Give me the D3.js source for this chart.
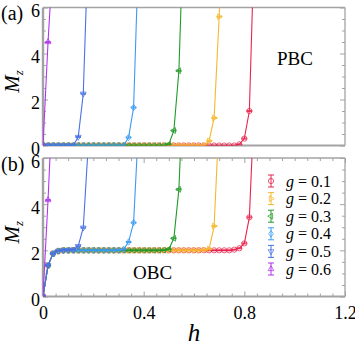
<!DOCTYPE html>
<html>
<head>
<meta charset="utf-8">
<script src="https://cdn.jsdelivr.net/npm/d3@7"></script>
<style>
  body { margin: 0; background: #fff; }
  svg { display: block; }
  svg text { font-family: "Liberation Serif", "Times New Roman", "DejaVu Serif", serif; fill: #000; }
</style>
</head>
<body>
<div id="chart"></div>
<script>
// h values shared by every series (each series uses the first N of them)
const hGrid = [0, 0.02, 0.04, 0.06, 0.08, 0.10, 0.12, 0.14, 0.16, 0.18, 0.20,
  0.22, 0.24, 0.26, 0.28, 0.30, 0.32, 0.34, 0.36, 0.38, 0.40, 0.42, 0.44, 0.46,
  0.48, 0.50, 0.52, 0.54, 0.56, 0.58, 0.60, 0.62, 0.64, 0.66, 0.68, 0.70, 0.72,
  0.74, 0.76, 0.78, 0.80, 0.82, 0.84]

const gLabels = ["0.1", "0.2", "0.3", "0.4", "0.5", "0.6"]

// (a) PBC, M_z per g
const pbc01 = [0,0,0,0,0,0,0,0,0,0, 0,0,0,0,0,0,0,0,0,0, 0,0,0,0,0,0,0,0,0,0, 0,0,0,0,0,0,0,0,0, 0.05, 0.3, 1.5, 9]
const pbc02 = [0,0,0,0,0,0,0,0,0,0, 0,0,0,0,0,0,0,0,0,0, 0,0,0,0,0,0,0,0,0,0, 0,0,0, 0.2, 1.2, 5.6, 11]
const pbc03 = [0,0,0,0,0,0,0,0,0,0, 0,0,0,0,0,0,0,0,0,0, 0,0,0,0,0, 0.05, 0.65, 3.25, 10]
const pbc04 = [0,0,0,0,0,0,0,0,0,0, 0,0,0,0,0,0,0, 0.35, 1.65, 8.5]
const pbc05 = [0,0,0,0,0,0,0, 0.37, 2.25, 8.9]
const pbc06 = [0, 4.5, 8.2]

// (b) OBC, M_z per g
const obc01 = [0, 1.35, 1.86, 1.97, 2,2,2,2,2,2, 2,2,2,2,2,2,2,2,2,2, 2,2,2,2,2,2,2,2,2,2, 2,2,2,2,2,2,2,2, 2.03, 2.09, 2.3, 3.43, 8.5]
const obc02 = [0, 1.35, 1.86, 1.97, 2,2,2,2,2,2, 2,2,2,2,2,2,2,2,2,2, 2,2,2,2,2,2,2,2,2,2, 2,2, 2.02, 2.06, 3.05, 7.8]
const obc03 = [0, 1.35, 1.86, 1.97, 2,2,2,2,2,2, 2,2,2,2,2,2,2,2,2,2, 2,2,2,2, 2.01, 2.05, 2.52, 4.64, 10]
const obc04 = [0, 1.35, 1.86, 1.97, 2,2,2,2,2,2, 2,2,2,2,2, 2.01, 2.04, 2.36, 3.2, 7.5]
const obc05 = [0, 1.35, 1.86, 1.97, 2, 2.01, 2.03, 2.18, 2.98, 6.6]
const obc06 = [0, 4.18, 9]

const pbcSeries = [pbc01, pbc02, pbc03, pbc04, pbc05, pbc06]
const obcSeries = [obc01, obc02, obc03, obc04, obc05, obc06]

const errBar = 0.02

// tick labels
const xTicks = [0, 0.4, 0.8, 1.2]
const yTicks = [0, 2, 4, 6]

const colors = ["#e8244c", "#f5b82c", "#229a28", "#3a9af5", "#4a70e4", "#b035ee"]
const markers = ["circle", "right", "left", "diamond", "down", "up"]

var width = 355, height = 345
var serif = "'Liberation Serif', 'Times New Roman', serif"

var svg = d3.select("#chart").append("svg")
  .attr("width", width)
  .attr("height", height)
  .attr("font-family", serif)

var x = d3.scaleLinear().domain([0, 1.2]).range([43, 345])

var panels = [
  { id: "a", top: 7.5, bottom: 145.5, series: pbcSeries, tag: "(a)", tagY: 20, hasXTicks: false },
  { id: "b", top: 158, bottom: 296.5, series: obcSeries, tag: "(b)", tagY: 171, hasXTicks: true }
]

var frameColor = "#a3a3a3"

// marker shapes centred on 0,0
function markerPath(kind) {
  let r = 3.3
  let tri = "M0," + (-r) + "L" + (r * 0.87) + "," + (r / 2) + "L" + (-r * 0.87) + "," + (r / 2) + "Z"
  if (kind === "circle") {
    let c = 2.6
    return "M" + c + ",0A" + c + "," + c + " 0 1,1 " + (-c) + ",0A" + c + "," + c + " 0 1,1 " + c + ",0Z"
  }
  if (kind === "diamond") return "M0,-3.2L2.4,0L0,3.2L-2.4,0Z"
  return tri
}
function markerRot(kind) {
  if (kind === "right") return 90
  if (kind === "left") return -90
  if (kind === "down") return 180
  return 0
}

var minorY = d3.range(0, 6.01, 0.5).filter(v => yTicks.indexOf(v) < 0)
var minorX = d3.range(0, 1.201, 0.05).filter(v => !xTicks.some(t => Math.abs(t - v) < 1e-6))

panels.forEach((p) => {
  var y = d3.scaleLinear().domain([0, 6]).range([p.bottom, p.top])
  var g = svg.append("g")

  g.append("clipPath").attr("id", "clip-" + p.id)
    .append("rect")
    .attr("x", x(0)).attr("y", p.top)
    .attr("width", x(1.2) - x(0)).attr("height", p.bottom - p.top)

  // left axis with labels
  var left = g.append("g").attr("transform", "translate(" + x(0) + ",0)")
    .call(d3.axisLeft(y).tickValues(yTicks).tickSize(-5).tickPadding(3).tickFormat(d3.format("d")))
  left.append("g").call(d3.axisLeft(y).tickValues(minorY).tickSize(-3).tickFormat(""))
  var right = g.append("g").attr("transform", "translate(" + x(1.2) + ",0)")
    .call(d3.axisRight(y).tickValues(yTicks).tickSize(-5).tickFormat(""))
  right.append("g").call(d3.axisRight(y).tickValues(minorY).tickSize(-3).tickFormat(""))

  if (p.hasXTicks) {
    var bottom = g.append("g").attr("transform", "translate(0," + p.bottom + ")")
      .call(d3.axisBottom(x).tickValues(xTicks).tickSize(-5).tickPadding(10).tickFormat(d => d === 0 ? "0" : d3.format(".1f")(d)))
    bottom.append("g").call(d3.axisBottom(x).tickValues(minorX).tickSize(-3).tickFormat(""))
    var top = g.append("g").attr("transform", "translate(0," + p.top + ")")
      .call(d3.axisTop(x).tickValues(xTicks).tickSize(-5).tickFormat(""))
    top.append("g").call(d3.axisTop(x).tickValues(minorX).tickSize(-3).tickFormat(""))
  }

  g.selectAll(".domain").remove()
  g.selectAll("g").attr("font-family", serif)
  g.selectAll(".tick line").attr("stroke", frameColor).attr("stroke-width", 1)
  g.selectAll(".tick text").style("font-size", "18px").attr("fill", "#000")
    .style("font-family", serif)
  left.selectAll(".tick text").attr("dy", "0.5em")

  // frame
  g.append("line").attr("x1", x(0)).attr("x2", x(1.2)).attr("y1", p.top).attr("y2", p.top)
    .attr("stroke", frameColor).attr("stroke-width", 1.3)
  g.append("line").attr("x1", x(1.2)).attr("x2", x(1.2)).attr("y1", p.top).attr("y2", p.bottom)
    .attr("stroke", frameColor).attr("stroke-width", 1.3)
  g.append("line").attr("x1", x(0)).attr("x2", x(1.2)).attr("y1", p.bottom).attr("y2", p.bottom)
    .attr("stroke", frameColor).attr("stroke-width", 2)
  g.append("line").attr("x1", x(0)).attr("x2", x(0)).attr("y1", p.top).attr("y2", p.bottom)
    .attr("stroke", frameColor).attr("stroke-width", 2.4)

  // curves
  var plot = g.append("g").attr("clip-path", "url(#clip-" + p.id + ")")
  var line = d3.line().x(d => x(d.h)).y(d => y(d.m))

  p.series.forEach((s, si) => {
    let pts = s.map((m, i) => ({ h: hGrid[i], m: m }))
    let col = colors[si]
    plot.append("path").datum(pts)
      .attr("d", line)
      .attr("fill", "none")
      .attr("stroke", col)
      .attr("stroke-width", 1.1)

    let mk = plot.selectAll(".mk" + si).data(pts).enter().append("g")
      .attr("transform", d => "translate(" + x(d.h) + "," + y(d.m) + ")")
    mk.append("line").attr("x1", -2.8).attr("x2", 2.8)
      .attr("y1", d => y(d.m - errBar) - y(d.m)).attr("y2", d => y(d.m - errBar) - y(d.m))
      .attr("stroke", col).attr("stroke-width", 0.9)
    mk.append("line").attr("x1", -2.8).attr("x2", 2.8)
      .attr("y1", d => y(d.m + errBar) - y(d.m)).attr("y2", d => y(d.m + errBar) - y(d.m))
      .attr("stroke", col).attr("stroke-width", 0.9)
    mk.append("path")
      .attr("d", markerPath(markers[si]))
      .attr("transform", "rotate(" + markerRot(markers[si]) + ")")
      .attr("fill", "none")
      .attr("stroke", col)
      .attr("stroke-opacity", 0.75)
      .attr("stroke-width", 1)
  })

  // panel tag
  svg.append("text").attr("x", 1).attr("y", p.tagY)
    .style("font-size", "20px").text(p.tag)

  // y label M_z
  var yl = svg.append("text")
    .attr("transform", "translate(19," + ((p.top + p.bottom) / 2 + 5) + ") rotate(-90)")
    .attr("text-anchor", "middle")
    .style("font-size", "21px").style("font-style", "italic")
  yl.append("tspan").text("M")
  yl.append("tspan").attr("dy", 4).style("font-size", "13px").text("z")
})

// boundary condition labels
svg.append("text").attr("x", 277).attr("y", 65).style("font-size", "19px").text("PBC")
svg.append("text").attr("x", 133).attr("y", 279).style("font-size", "19px").text("OBC")

// x label
svg.append("text").attr("x", x(0.6)).attr("y", 341).attr("text-anchor", "middle")
  .style("font-size", "25px").style("font-style", "italic").text("h")

// legend
var legend = svg.append("g").attr("transform", "translate(271,181)")
gLabels.forEach((lab, i) => {
  let row = legend.append("g").attr("transform", "translate(0," + (i * 17.6) + ")")
  let col = colors[i]
  row.append("line").attr("x1", 0).attr("x2", 0).attr("y1", -6).attr("y2", 6)
    .attr("stroke", col).attr("stroke-width", 1)
  row.append("line").attr("x1", -3).attr("x2", 3).attr("y1", -6).attr("y2", -6)
    .attr("stroke", col).attr("stroke-width", 1)
  row.append("line").attr("x1", -3).attr("x2", 3).attr("y1", 6).attr("y2", 6)
    .attr("stroke", col).attr("stroke-width", 1)
  row.append("path").attr("d", markerPath(markers[i]))
    .attr("transform", "rotate(" + markerRot(markers[i]) + ")")
    .attr("fill", "none").attr("stroke", col).attr("stroke-opacity", 0.75).attr("stroke-width", 1)
  let t = row.append("text").attr("x", 15).attr("y", 5.5).style("font-size", "16px")
  t.append("tspan").style("font-style", "italic").text("g")
  t.append("tspan").text(" = " + lab)
})
</script>
</body>
</html>
